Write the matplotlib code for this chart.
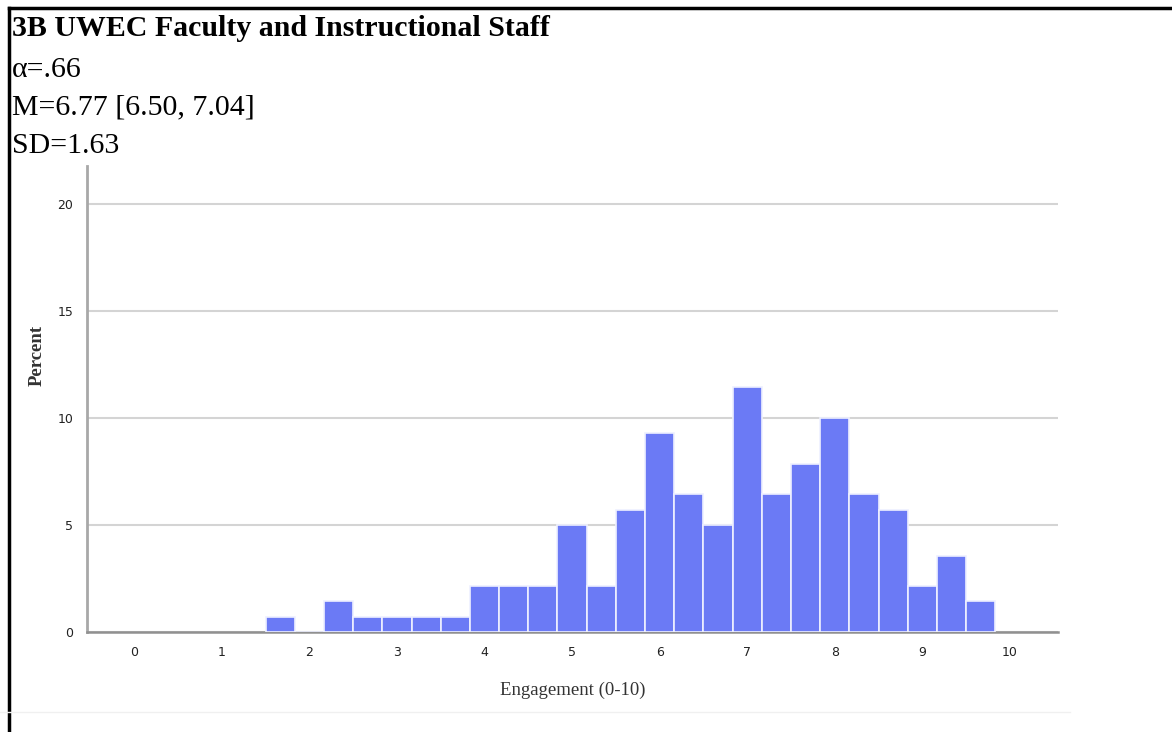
import numpy as np
import matplotlib
matplotlib.use("Agg")
import matplotlib.pyplot as plt
from matplotlib.lines import Line2D

# bins of width 1/3 starting at 1.5, values in percent (n=140)
bin_start = 1.5
bin_width = 1 / 3
percent = [0.71, 0.0, 1.43, 0.71, 0.71, 0.71, 0.71, 2.14, 2.14, 2.14, 5.0, 2.14,
           5.71, 9.29, 6.43, 5.0, 11.43, 6.43, 7.86, 10.0, 6.43, 5.71, 2.14, 3.57, 1.43]
x_ticks = list(range(0, 11))
y_ticks = [0, 5, 10, 15, 20]

title_lines = ["α=.66", "M=6.77 [6.50, 7.04]", "SD=1.63"]

W, H = 1172, 732
fig = plt.figure(figsize=(W / 100, H / 100), dpi=100)
ax = fig.add_axes([87 / W, 1 - 632 / H, (1058 - 87) / W, (632 - 166) / H])

edges = bin_start + bin_width * np.arange(len(percent))
ax.bar(edges, percent, width=bin_width, align="edge", color="#6b7af5",
       edgecolor="#eef0ff", linewidth=1.2, zorder=3)

ax.set_xlim(-0.54, 10.55)
ax.set_ylim(0, 21.78)
ax.set_xticks(x_ticks)
ax.set_yticks(y_ticks)
ax.yaxis.grid(True, color="#d4d4d4", linewidth=1.5, zorder=0)
ax.set_axisbelow(True)
for s in ["top", "right"]:
    ax.spines[s].set_visible(False)
ax.spines["left"].set_color("#a8a8a8")
ax.spines["left"].set_linewidth(2)
ax.spines["bottom"].set_color("#909090")
ax.spines["bottom"].set_linewidth(1.8)
ax.tick_params(length=0, labelsize=9, labelcolor="#222222", pad=10)
ax.tick_params(axis="y", pad=10)

ax.set_xlabel("Engagement (0-10)", family="Liberation Serif", fontsize=13.5,
              color="#333333")
ax.xaxis.set_label_coords(0.5, -(682 - 632) / 466)
ax.set_ylabel("Percent", family="Liberation Serif", fontsize=13.5,
              fontweight="bold", color="#333333")
ax.yaxis.set_label_coords(-(87 - 46) / 971, (632 - 355) / 466)

fig.text(12 / W, 1 - 28 / H, "3B UWEC Faculty and Instructional Staff",
         family="Liberation Serif", fontweight="bold", fontsize=21.5, va="center")
for i, t in enumerate(title_lines):
    fig.text(12 / W, 1 - [70, 107, 146][i] / H, t, family="Liberation Serif",
             fontsize=21.5, va="center")

# border lines
fig.add_artist(Line2D([9 / W, 1], [1 - 8 / H, 1 - 8 / H], color="black",
                      linewidth=2.5, transform=fig.transFigure))
fig.add_artist(Line2D([9 / W, 9 / W], [0, 1 - 8 / H], color="black",
                      linewidth=2.5, transform=fig.transFigure))
fig.add_artist(Line2D([0, 1070 / W], [1 - 712 / H, 1 - 712 / H], color="#f0f0f0",
                      linewidth=1, transform=fig.transFigure))

fig.savefig("out.png", dpi=100)
